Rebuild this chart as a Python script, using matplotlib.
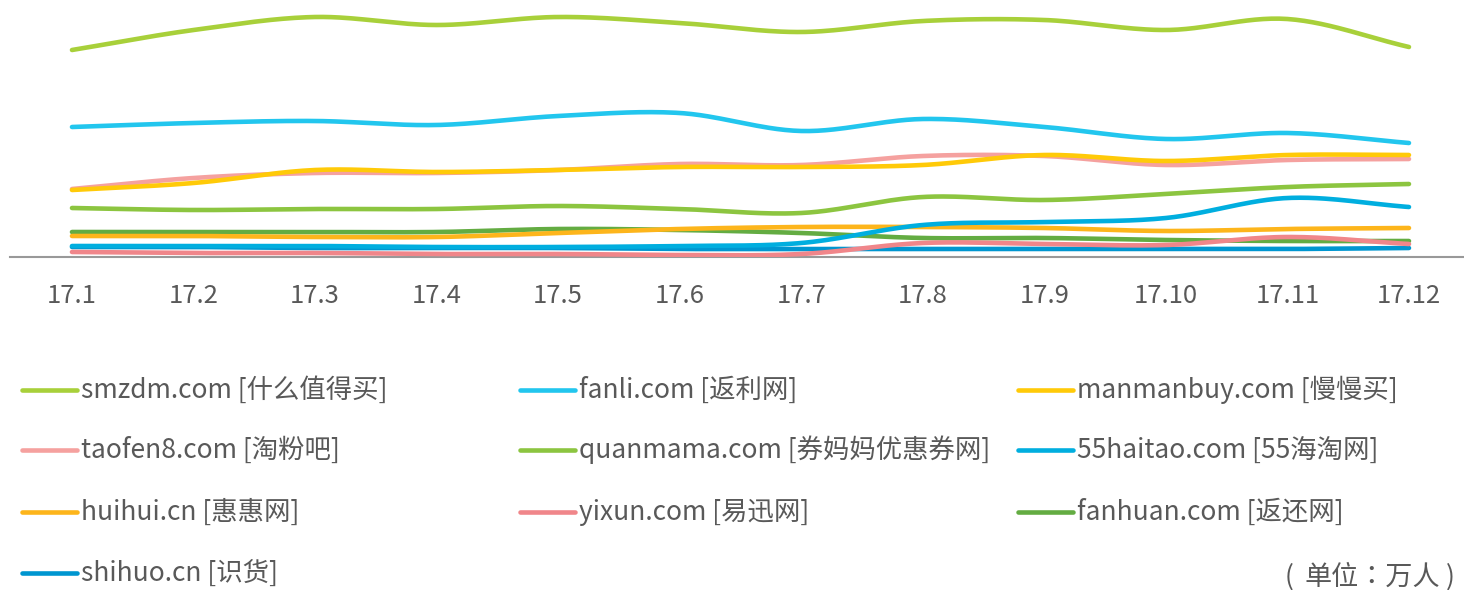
import numpy as np
import matplotlib
matplotlib.use("Agg")
import matplotlib.pyplot as plt
from matplotlib.lines import Line2D

plt.rcParams['font.family'] = ['Noto Sans CJK SC', 'DejaVu Sans']

months = ["17.1", "17.2", "17.3", "17.4", "17.5", "17.6",
          "17.7", "17.8", "17.9", "17.10", "17.11", "17.12"]

smzdm = [207, 227, 240, 232, 240, 234, 225, 236, 237, 227, 238, 210]
fanli = [130, 134, 136, 132, 141, 144, 126, 138, 130, 118, 124, 114]
manmanbuy = [67, 74, 87, 85, 87, 90, 90, 92, 102, 96, 102, 102]
taofen8 = [68, 79, 84, 84, 87, 93, 92, 101, 101, 92, 97, 98]
quanmama = [49, 47, 48, 48, 51, 48, 44, 60, 57, 63, 70, 73]
haitao55 = [11, 11, 11, 10, 10, 11, 14, 32, 35, 39, 59, 50]
huihui = [21, 21, 20, 20, 24, 28, 30, 30, 29, 26, 28, 29]
yixun = [5, 4, 4, 3, 3, 2, 3, 14, 13, 12, 20, 13]
fanhuan = [25, 25, 25, 25, 28, 27, 24, 19, 19, 17, 16, 16]
shihuo = [10, 10, 9, 9, 9, 8, 8, 8, 8, 8, 8, 9]

labels = ["smzdm.com [什么值得买]", "fanli.com [返利网]", "manmanbuy.com [慢慢买]",
          "taofen8.com [淘粉吧]", "quanmama.com [券妈妈优惠券网]", "55haitao.com [55海淘网]",
          "huihui.cn [惠惠网]", "yixun.com [易迅网]", "fanhuan.com [返还网]",
          "shihuo.cn [识货]"]
series = [smzdm, fanli, manmanbuy, taofen8, quanmama, haitao55,
          huihui, yixun, fanhuan, shihuo]
colors = ["#A8D03A", "#22C6EE", "#FFCA08", "#F5A19F", "#8CC540", "#00AEDF",
          "#FDB51B", "#F0868A", "#63AC42", "#0096D0"]
unit_label = "单位：万人"


def smooth(y, n=30):
    """Catmull-Rom spline through the points (rendering only)."""
    y = np.asarray(y, float)
    x = np.arange(len(y), dtype=float)
    P = np.concatenate([[2 * y[0] - y[1]], y, [2 * y[-1] - y[-2]]])
    xs, ys = [], []
    for i in range(len(y) - 1):
        p0, p1, p2, p3 = P[i], P[i + 1], P[i + 2], P[i + 3]
        t = np.linspace(0, 1, n, endpoint=(i == len(y) - 2))
        yy = 0.5 * ((2 * p1) + (-p0 + p2) * t + (2 * p0 - 5 * p1 + 4 * p2 - p3) * t ** 2
                    + (-p0 + 3 * p1 - 3 * p2 + p3) * t ** 3)
        xs.append(x[i] + t)
        ys.append(yy)
    return np.concatenate(xs), np.concatenate(ys)


W, H = 1464, 590
fig = plt.figure(figsize=(W / 100, H / 100), dpi=100)
ax = fig.add_axes([10 / W, (H - 257) / H, 1 - 10 / W, 257 / H])

# draw in reverse so first series is on top
for s, c in reversed(list(zip(series, colors))):
    xs, ys = smooth(s)
    ax.plot(xs, ys, color=c, lw=3.3, solid_capstyle='round', zorder=3)

ax.set_xlim(-0.51, 11 + 55 / 121.5)
ax.set_ylim(0, 257)
for sp in ['top', 'right', 'left']:
    ax.spines[sp].set_visible(False)
ax.spines['bottom'].set_color('#999999')
ax.spines['bottom'].set_linewidth(1.5)
ax.set_yticks([])
ax.set_xticks(range(len(months)))
ax.set_xticklabels(months, fontsize=18.5, color='#595959')
ax.tick_params(axis='x', length=0, pad=19)
ax.patch.set_alpha(0)

# legend (3 columns)
col_x = [22, 520, 1018]
row_y = [390, 450, 512, 573]
for i, (lab, c) in enumerate(zip(labels, colors)):
    r, k = divmod(i, 3)
    x0 = col_x[k]
    y0 = row_y[r]
    fy = 1 - y0 / H
    fig.add_artist(Line2D([x0 / W, (x0 + 55) / W], [fy, fy], color=c, lw=3.3,
                          solid_capstyle='round', transform=fig.transFigure))
    fig.text((x0 + 59) / W, fy, lab, fontsize=19, color='#595959',
             ha='left', va='center')

uy = 1 - 577 / H
tc = ['Noto Sans CJK TC', 'DejaVu Sans']
fig.text(1289 / W, uy, "(", fontsize=19, color='#595959', ha='center', va='center', family=tc)
fig.text(1304 / W, uy, unit_label, fontsize=19.5, color='#595959', ha='left', va='center', family=tc)
fig.text(1450 / W, uy, ")", fontsize=19, color='#595959', ha='center', va='center', family=tc)

fig.savefig("out.png", dpi=100)
